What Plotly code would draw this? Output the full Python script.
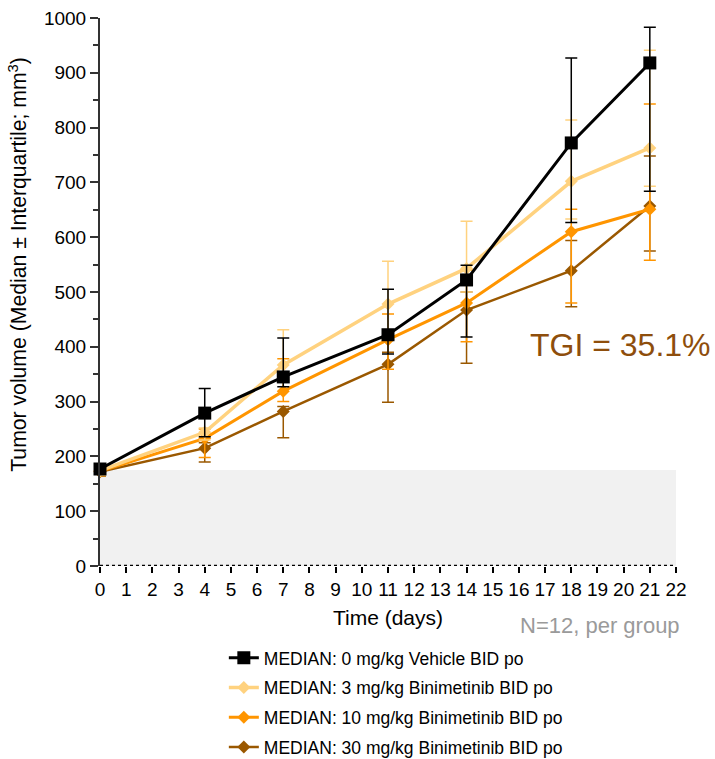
import plotly.graph_objects as go

days = [0, 4, 7, 11, 14, 18, 21]

series_names = [
    "MEDIAN: 0 mg/kg Vehicle BID po",
    "MEDIAN: 3 mg/kg Binimetinib BID po",
    "MEDIAN: 10 mg/kg Binimetinib BID po",
    "MEDIAN: 30 mg/kg Binimetinib BID po",
]

vehicle_med = [177, 279, 345, 422, 522, 772, 918]
vehicle_q1 = [168, 236, 327, 387, 418, 627, 684]
vehicle_q3 = [185, 324, 416, 505, 549, 927, 983]

bini3_med = [174, 244, 367, 478, 543, 702, 763]
bini3_q1 = [165, 230, 340, 430, 500, 633, 693]
bini3_q3 = [182, 252, 431, 556, 629, 814, 941]

bini10_med = [173, 233, 319, 413, 480, 610, 651]
bini10_q1 = [165, 198, 300, 359, 409, 480, 558]
bini10_q3 = [182, 250, 378, 460, 540, 651, 843]

bini30_med = [172, 215, 282, 368, 467, 539, 657]
bini30_q1 = [164, 190, 234, 299, 370, 473, 575]
bini30_q3 = [181, 225, 291, 390, 500, 594, 748]

baseline = 175
x_ticks = list(range(0, 23))

colors = ["#000000", "#FFD27F", "#FF9500", "#9A5800"]
symbols = ["square", "diamond", "diamond", "diamond"]
msizes = [13, 10, 10, 10]
lwidths = [3, 3.5, 3, 2.5]

data = [
    (vehicle_med, vehicle_q1, vehicle_q3),
    (bini3_med, bini3_q1, bini3_q3),
    (bini10_med, bini10_q1, bini10_q3),
    (bini30_med, bini30_q1, bini30_q3),
]

FONT = "Liberation Sans, Arial, Helvetica, sans-serif"

fig = go.Figure()

# draw in reverse so the vehicle line is on top
for i in [3, 2, 1, 0]:
    med, q1, q3 = data[i]
    fig.add_trace(go.Scatter(
        x=days, y=med,
        mode="lines+markers",
        name=series_names[i],
        legendgroup=f"g{i}",
        legendrank=i + 1,
        line=dict(color=colors[i], width=lwidths[i]),
        marker=dict(symbol=symbols[i], size=msizes[i], color=colors[i]),
        error_y=dict(
            type="data", symmetric=False,
            array=[h - m for h, m in zip(q3, med)],
            arrayminus=[m - l for m, l in zip(med, q1)],
            color=colors[i], thickness=1.5, width=6,
        ),
        cliponaxis=False,
    ))

# shaded baseline region
fig.add_shape(type="rect", xref="x", yref="y", x0=0, x1=22, y0=0, y1=baseline,
              fillcolor="#F1F1F1", line=dict(width=0), layer="below")
# dotted x-axis baseline
fig.add_shape(type="line", xref="x", yref="y", x0=0, x1=22, y0=0, y1=0,
              line=dict(color="#000000", width=2.5, dash="dot"), layer="above")

fig.add_annotation(text="TGI = 35.1%", xref="paper", yref="paper",
                   x=1.064, y=0.403, xanchor="right", yanchor="middle",
                   showarrow=False, font=dict(family=FONT, size=32, color="#8E4E0C"))
fig.add_annotation(text="N=12, per group", xref="paper", yref="paper",
                   x=1.011, y=-0.108, xanchor="right", yanchor="middle",
                   showarrow=False, font=dict(family=FONT, size=22, color="#9A9A9A"))
# y-axis title (placed as annotation: it sits above the axis centre in the reference)
fig.add_annotation(text="Tumor volume (Median ± Interquartile; mm<sup>3</sup>)",
                   xref="paper", yref="paper", x=-0.142, y=0.55,
                   xanchor="center", yanchor="middle", textangle=-90,
                   showarrow=False, font=dict(family=FONT, size=21.2, color="#000000"))

fig.update_layout(
    width=715, height=759,
    margin=dict(l=100, r=39, t=18, b=193, autoexpand=False),
    paper_bgcolor="white", plot_bgcolor="white",
    font=dict(family=FONT, size=19, color="#000000"),
    showlegend=True,
    legend=dict(
        x=0.215, y=-0.135, xanchor="left", yanchor="top",
        font=dict(family=FONT, size=17.5, color="#000000"),
        tracegroupgap=4, itemwidth=30, bgcolor="rgba(0,0,0,0)",
    ),
    xaxis=dict(
        range=[0, 22], tickmode="array", tickvals=x_ticks,
        ticktext=[str(v) for v in x_ticks],
        ticks="outside", ticklen=6, tickwidth=1.5, tickcolor="#000000",
        showline=False, showgrid=False, zeroline=False, automargin=False,
        tickfont=dict(size=19),
        title=dict(text="Time (days)", font=dict(size=21), standoff=11),
    ),
    yaxis=dict(
        range=[0, 1000], tickmode="linear", tick0=0, dtick=100,
        ticks="outside", ticklen=8, tickwidth=1.5, tickcolor="#333333",
        minor=dict(dtick=50, ticks="outside", ticklen=5, tickwidth=1.5, tickcolor="#333333"),
        showline=True, linecolor="#333333", linewidth=2,
        showgrid=False, zeroline=False, automargin=False,
        tickfont=dict(size=19),
    ),
)

fig.write_html("out.html")
